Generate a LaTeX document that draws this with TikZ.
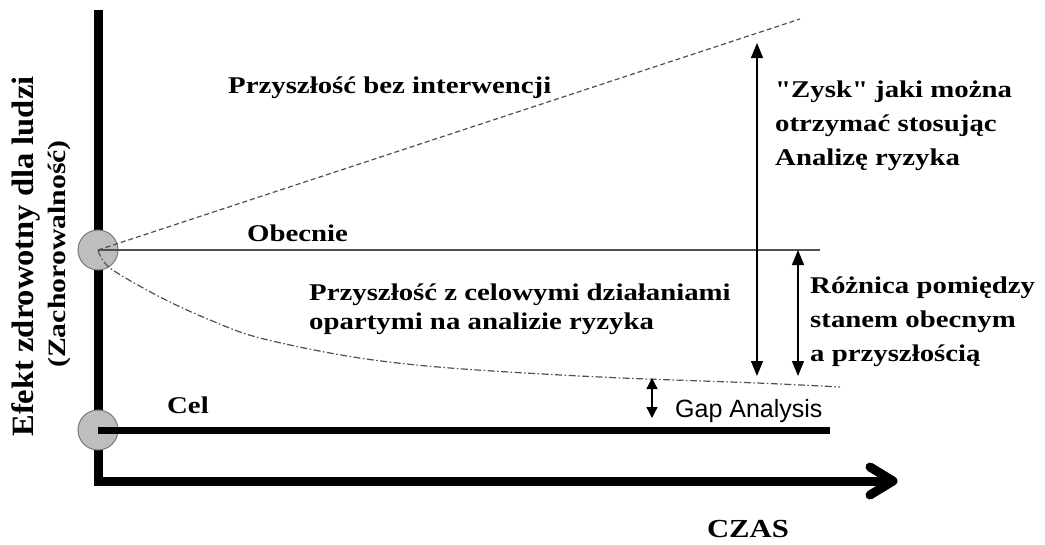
\documentclass[tikz,border=0pt]{standalone}
\usepackage{fontspec}
\setmainfont{Liberation Serif}
% same serif without TeX ligature mapping, so " stays a straight quote
\newfontfamily\straightserif{Liberation Serif}
\newfontfamily\gapfont{Liberation Sans}
\usetikzlibrary{arrows.meta}

\definecolor{dotfill}{RGB}{190,190,190}
\definecolor{dotline}{RGB}{120,120,120}
\definecolor{trendline}{RGB}{80,80,80}

% horizontally widened, bold serif label text
\newcommand{\wide}[2][1.2]{\scalebox{#1}[1]{#2}}
\newcommand{\lbltext}{\fontsize{24}{34}\selectfont\bfseries}
\newcommand{\sq}{{\straightserif\bfseries"}}

\begin{document}
\begin{tikzpicture}[x=1pt,y=-1pt,
  axisline/.style={line width=9pt,line cap=butt,line join=miter},
  milestone/.style={circle,fill=dotfill,draw=dotline,line width=1pt,minimum size=40pt,inner sep=0pt},
  lbl/.style={inner sep=0pt,font=\lbltext},
  dimarrow/.style={line width=1.3pt,{Triangle[length=15pt,width=12pt]}-{Triangle[length=15pt,width=12pt]}},
  smallarrow/.style={line width=1.3pt,{Triangle[length=11pt,width=11pt]}-{Triangle[length=11pt,width=11pt]}},
  nointerv/.style={trendline,line width=1.2pt,dash pattern=on 5pt off 3pt},
  withplan/.style={trendline,line width=1.2pt,dash pattern=on 7pt off 2.5pt on 1.5pt off 2.5pt}]

\fill[white] (0,0) rectangle (1045,544);
\path[use as bounding box] (0,0) rectangle (1045,544);

% axes
\coordinate (ytop) at (98,10);
\coordinate (origin) at (98,481);
\coordinate (xend) at (884,481);
\coordinate (xtip) at (893,481);
\coordinate (barbA) at (870,467);
\coordinate (barbB) at (870,495);
\draw[axisline] (ytop) -- (origin) -- (xend);
\draw[line width=9pt,line cap=round,line join=round] (barbA) -- (xtip) -- (barbB);

% present state and target markers
\node[milestone] (now) at (98,250) {};
\node[milestone] (goal) at (98,430) {};

% reference lines
\coordinate (nowend) at (820,250);
\coordinate (goalend) at (830,430);
\coordinate (freeend) at (800,19);
\draw[trendline,line width=1.5pt] (now.center) -- (nowend);
\draw[line width=7pt] (goal.center) -- (goalend);
\draw[nointerv] (now.center) -- (freeend);
\draw[withplan] plot[smooth,tension=0.55] coordinates
  {(98,250) (110,268) (160,297) (210,320) (260,338) (353,357) (450,368) (600,377) (757,383) (840,387)};

% dimension arrows
\coordinate (zyskTop) at (757,43);
\coordinate (zyskBot) at (757,376);
\coordinate (roznTop) at (798,250);
\coordinate (roznBot) at (798,376);
\coordinate (gapTop) at (652,378);
\coordinate (gapBot) at (652,418);
\draw[dimarrow] (zyskTop) -- (zyskBot);
\draw[dimarrow] (roznTop) -- (roznBot);
\draw[smallarrow] (gapTop) -- (gapBot);

% labels
\node[lbl,anchor=base west] (tfree) at (228,93) {\wide{Przyszłość bez interwencji}};
\node[lbl,anchor=base west] (tnow) at (247,241) {\wide{Obecnie}};
\node[lbl,anchor=base west] (tplan) at (309,300)
  {\wide{\begin{tabular}[t]{@{}l@{}}Przyszłość z celowymi działaniami\\[-5pt]opartymi na analizie ryzyka\end{tabular}}};
\node[lbl,anchor=base west] (tgoal) at (167,413) {\wide{Cel}};
\node[lbl,anchor=base west] (tzysk) at (775,97)
  {\wide{\begin{tabular}[t]{@{}l@{}}\sq Zysk\sq{} jaki można\\otrzymać stosując\\Analizę ryzyka\end{tabular}}};
\node[lbl,anchor=base west] (trozn) at (810,293)
  {\wide{\begin{tabular}[t]{@{}l@{}}Różnica pomiędzy\\stanem obecnym\\a przyszłością\end{tabular}}};
\node[inner sep=0pt,anchor=base west,font=\gapfont\fontsize{25}{30}\selectfont] (tgap) at (675,417) {Gap Analysis};
\node[inner sep=0pt,anchor=base,font=\fontsize{26}{30}\selectfont\bfseries] (ttime) at (748,537) {\wide[1.18]{CZAS}};

% vertical axis title
\node[inner sep=0pt,anchor=base,rotate=90,font=\fontsize{31}{36}\selectfont\bfseries] (ylab1) at (33.5,256.5)
  {\wide[1.05]{Efekt zdrowotny dla ludzi}};
\node[inner sep=0pt,anchor=base,rotate=90,font=\fontsize{25}{30}\selectfont\bfseries] (ylab2) at (65,254)
  {\wide[1.19]{(Zachorowalność)}};

\end{tikzpicture}
\end{document}
